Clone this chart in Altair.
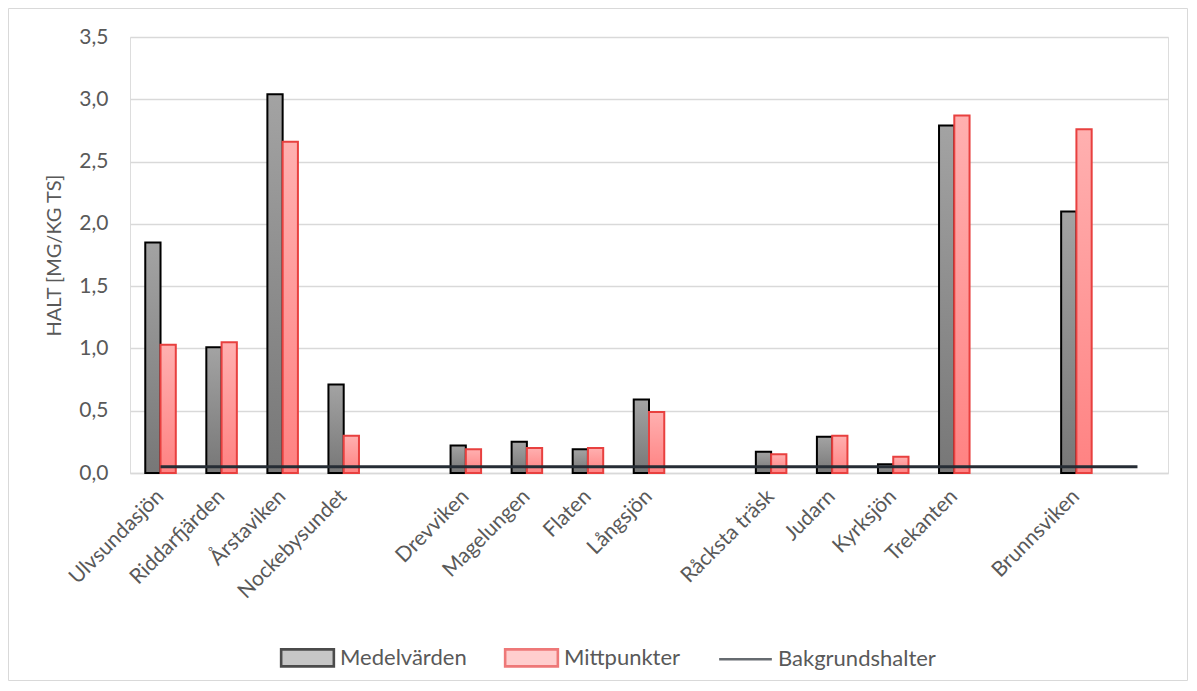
import altair as alt
import pandas as pd

categories = ["Ulvsundasjön", "Riddarfjärden", "Årstaviken", "Nockebysundet", "",
              "Drevviken", "Magelungen", "Flaten", "Långsjön", "",
              "Råcksta träsk", "Judarn", "Kyrksjön", "Trekanten", "",
              "Brunnsviken", ""]
medelvarden = [1.85, 1.01, 3.04, 0.71, None, 0.22, 0.25, 0.19, 0.59, None,
               0.17, 0.29, 0.07, 2.79, None, 2.10, None]
mittpunkter = [1.03, 1.05, 2.66, 0.30, None, 0.19, 0.20, 0.20, 0.49, None,
               0.15, 0.30, 0.13, 2.87, None, 2.76, None]
bakgrund = [0.05, 0.05, 0.05, 0.05, 0.05, 0.05, 0.05, 0.05, 0.05, 0.05,
            0.05, 0.05, 0.05, 0.05, 0.05, 0.05, 0.05]
series_names = ["Medelvärden", "Mittpunkter", "Bakgrundshalter"]

rows = []
for i, (m, p) in enumerate(zip(medelvarden, mittpunkter)):
    if m is not None:
        rows.append({"slot": i, "series": series_names[0], "value": m})
    if p is not None:
        rows.append({"slot": i, "series": series_names[1], "value": p})
bars_df = pd.DataFrame(rows)
line_df = pd.DataFrame({"slot": list(range(len(categories))), "value": bakgrund,
                        "series": series_names[2]})

FONT = "Lato"
TXT = "#595959"

label_js = "[" + ",".join("'" + c + "'" for c in categories) + "][datum.value]"

x_enc = alt.X("slot:O", title=None,
              scale=alt.Scale(paddingInner=0.5, paddingOuter=0.25),
              axis=alt.Axis(labelExpr=label_js, labelAngle=-45, labelAlign="right",
                            labelBaseline="middle", labelPadding=20, ticks=False,
                            domainColor="#d9d9d9", domainWidth=1.3,
                            labelFont=FONT, labelFontSize=21, labelColor=TXT,
                            labelOverlap=False))
y_scale = alt.Scale(domain=[0, 3.5], nice=False)
y_axis = alt.Axis(values=[0, 0.5, 1, 1.5, 2, 2.5, 3, 3.5],
                  labelExpr="replace(format(datum.value, '.1f'), '.', ',')",
                  title="HALT [MG/KG TS]", titleFont=FONT, titleFontSize=20,
                  titleFontWeight="normal", titleColor=TXT, titlePadding=14,
                  labelFont=FONT, labelFontSize=21, labelColor=TXT, labelPadding=22,
                  ticks=False, domain=False, grid=True, gridColor="#d9d9d9",
                  gridWidth=1.3)

grad_gray = {"gradient": "linear", "x1": 0, "x2": 0, "y1": 0, "y2": 1,
             "stops": [{"offset": 0, "color": "#a3a3a3"},
                       {"offset": 1, "color": "#777777"}]}
grad_red = {"gradient": "linear", "x1": 0, "x2": 0, "y1": 0, "y2": 1,
            "stops": [{"offset": 0, "color": "#ffb0b0"},
                      {"offset": 1, "color": "#ff8282"}]}

frame = alt.Chart(pd.DataFrame({"frame": [0]})).mark_rect(
    fill="transparent", stroke="#d9d9d9", strokeWidth=1
).encode(x=alt.value(-121.5), x2=alt.value(1057.5), y=alt.value(-28.5), y2=alt.value(643.5))

bars = alt.Chart(bars_df).mark_bar(strokeWidth=2).encode(
    x=x_enc,
    xOffset=alt.XOffset("series:N", scale=alt.Scale(domain=series_names[:2], paddingInner=0, paddingOuter=0)),
    y=alt.Y("value:Q", scale=y_scale, axis=y_axis),
    fill=alt.condition(alt.datum.series == series_names[0], alt.value(grad_gray), alt.value(grad_red)),
    stroke=alt.condition(alt.datum.series == series_names[0], alt.value("#000000"), alt.value("#e8403f")),
)

line = alt.Chart(line_df).mark_line(strokeWidth=3, color="#262d35").encode(
    x=alt.X("slot:O", bandPosition=0.5),
    y=alt.Y("value:Q"),
)

rect_path = "M-1.55,-0.5H1.55V0.5H-1.55Z"
line_path = "M-1.55,0H1.55"
legend_layer = alt.Chart(line_df).mark_point(filled=True, strokeWidth=2).encode(
    fill=alt.Fill("series:N", scale=alt.Scale(domain=series_names,
                                             range=["#8c8c8c", "#ff9c9c", "transparent"]),
                  legend=alt.Legend(title=None, orient="none", direction="horizontal",
                                    legendX=159, legendY=602, symbolSize=1156,
                                    labelFont=FONT, labelFontSize=22, labelColor=TXT,
                                    labelOffset=14, columnPadding=32, symbolStrokeWidth=2.6)),
    stroke=alt.Stroke("series:N", scale=alt.Scale(domain=series_names,
                                                 range=["#000000", "#e8403f", "#262d35"])),
    shape=alt.Shape("series:N", scale=alt.Scale(domain=series_names,
                                               range=[rect_path, rect_path, line_path])),
).transform_filter("false")

chart = alt.layer(frame, bars, line, legend_layer).properties(
    width=1038, height=436,
    autosize=alt.AutoSizeParams(type="none"),
    padding={"left": 122, "top": 29, "right": 20, "bottom": 208},
).configure_view(stroke=None).configure(font=FONT)

chart.save("out.html", embed_options={"renderer": "svg", "actions": False})
